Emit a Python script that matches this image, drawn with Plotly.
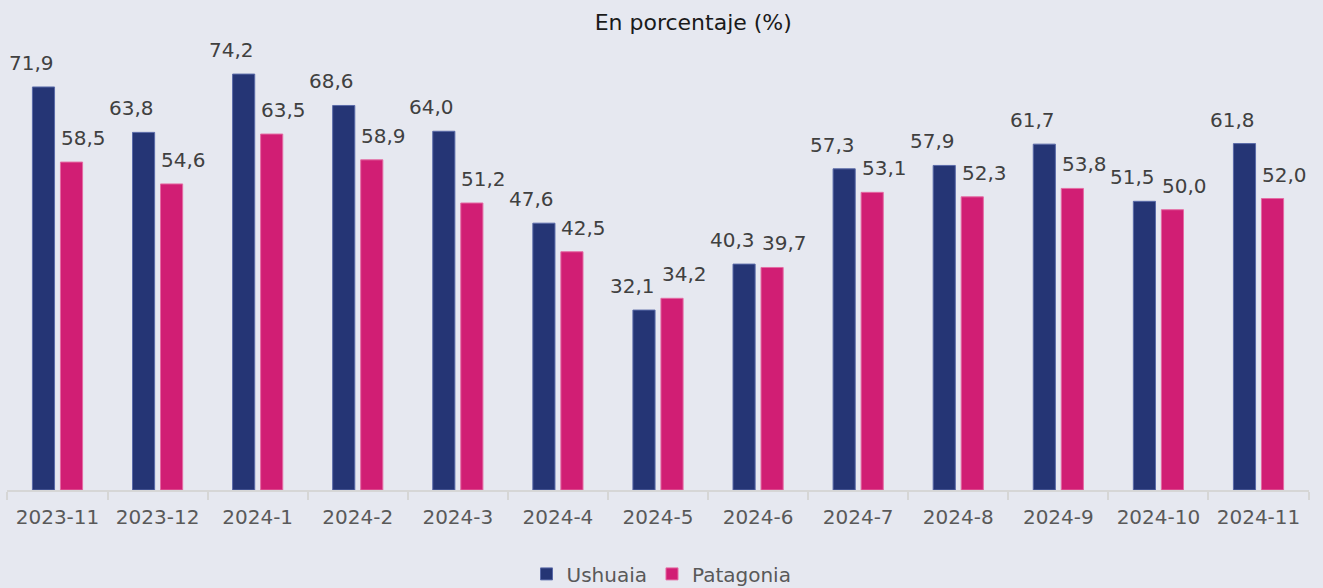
import plotly.graph_objects as go

categories = ["2023-11", "2023-12", "2024-1", "2024-2", "2024-3", "2024-4", "2024-5",
              "2024-6", "2024-7", "2024-8", "2024-9", "2024-10", "2024-11"]
ushuaia = [71.9, 63.8, 74.2, 68.6, 64.0, 47.6, 32.1, 40.3, 57.3, 57.9, 61.7, 51.5, 61.8]
patagonia = [58.5, 54.6, 63.5, 58.9, 51.2, 42.5, 34.2, 39.7, 53.1, 52.3, 53.8, 50.0, 52.0]

NAVY = "#253575"
MAGENTA = "#d11e74"
BG = "#e6e8f0"
FONT = "DejaVu Sans"

fig = go.Figure()
fig.add_bar(x=categories, y=ushuaia, name="Ushuaia", marker_color=NAVY,
            marker_line=dict(color="#5a6aa8", width=1))
fig.add_bar(x=categories, y=patagonia, name="Patagonia", marker_color=MAGENTA,
            marker_line=dict(color="#e46aa3", width=1))

def fmt(v):
    return f"{v:.1f}".replace(".", ",")

anns = []
for c, v in zip(categories, ushuaia):
    anns.append(dict(x=c, y=v, text=fmt(v), xshift=-26, yshift=10, showarrow=False,
                     yanchor="bottom", font=dict(size=20, color="#404040", family=FONT)))
for c, v in zip(categories, patagonia):
    anns.append(dict(x=c, y=v, text=fmt(v), xshift=26, yshift=10, showarrow=False,
                     yanchor="bottom", font=dict(size=20, color="#404040", family=FONT)))

fig.update_layout(
    width=1323, height=588,
    paper_bgcolor=BG, plot_bgcolor=BG,
    margin=dict(l=7, r=14, t=40, b=98),
    barmode="group", bargap=0.44, bargroupgap=0.21,
    font=dict(family=FONT, color="#595959"),
    title=dict(text="En porcentaje (%)", x=0.524, xref="container", xanchor="center",
               y=0.962, yref="container", yanchor="middle",
               font=dict(size=22, color="#1a1a1a", family=FONT)),
    legend=dict(orientation="h", x=0.5, xanchor="center", xref="container",
                y=0.024, yref="container", yanchor="middle",
                font=dict(size=20, color="#595959", family=FONT),
                itemwidth=30, traceorder="normal"),
    annotations=anns,
    showlegend=True,
)
fig.update_xaxes(type="category", showline=True, linecolor="#d6d6d6", linewidth=2,
                 ticks="outside", tickson="boundaries", ticklen=8, tickcolor="#d6d6d6", tickwidth=2,
                 tickfont=dict(size=20, color="#595959", family=FONT), ticklabelstandoff=8,
                 showgrid=False)
fig.update_yaxes(range=[0, 80.28], visible=False, showgrid=False, zeroline=False)

fig.write_html("out.html", config={"displayModeBar": False},
               post_script="document.body.style.margin='0';document.body.style.padding='0';")
